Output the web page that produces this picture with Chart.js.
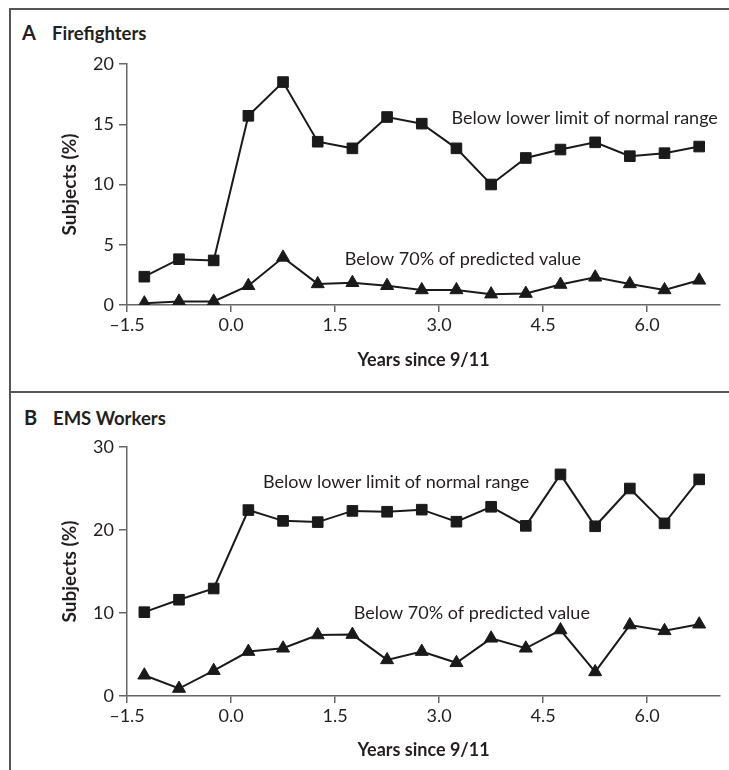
<!DOCTYPE html>
<html>
<head>
    <title>Spirometry after 9/11</title>
    <script src="https://cdn.jsdelivr.net/npm/chart.js"></script>
    <style>
        body { margin: 0; width: 729px; height: 770px; background: #fff; font-family: Lato, sans-serif; color: #231f20; overflow: hidden; }
        #frame { position: absolute; left: 9px; top: 8px; right: -5px; bottom: -5px; border-left: 2px solid #555; border-top: 2px solid #555; }
        #sep { position: absolute; left: 9px; right: 0; top: 391px; height: 2px; background: #555; }
        .panel-title { position: absolute; font-weight: bold; font-size: 18.5px; line-height: 22px; }
        .panel-title span { display: inline-block; font-size: 20px; }
        .wrap { position: absolute; left: 0; width: 729px; }
    </style>
</head>
<body>
    <div id="frame"></div>
    <div id="sep"></div>
    <div class="panel-title" style="left:22px; top:21px;"><span style="width:30px;">A</span>Firefighters</div>
    <div class="panel-title" style="left:24px; top:406px;"><span style="width:29px;">B</span>EMS Workers</div>
    <div class="wrap" style="top:40px; height:352px;"><canvas id="chartA"></canvas></div>
    <div class="wrap" style="top:395px; height:375px;"><canvas id="chartB"></canvas></div>

    <script>
        // Years since 9/11 (midpoints of half-year intervals)
        const years = [-1.25, -0.75, -0.25, 0.25, 0.75, 1.25, 1.75, 2.25, 2.75, 3.25, 3.75, 4.25, 4.75, 5.25, 5.75, 6.25, 6.75];
        const xTicks = [-1.5, 0.0, 1.5, 3.0, 4.5, 6.0];

        // Panel A: firefighters
        const fireLowerLimit = [2.35, 3.8, 3.7, 15.7, 18.5, 13.55, 13.0, 15.6, 15.05, 13.0, 10.0, 12.2, 12.9, 13.5, 12.35, 12.6, 13.15];
        const fireBelow70 = [0.15, 0.3, 0.3, 1.6, 3.95, 1.75, 1.85, 1.6, 1.25, 1.25, 0.9, 0.95, 1.7, 2.3, 1.75, 1.25, 2.05];
        const fireYTicks = [0, 5, 10, 15, 20];

        // Panel B: EMS workers
        const emsLowerLimit = [10.1, 11.6, 12.95, 22.4, 21.1, 20.95, 22.3, 22.2, 22.45, 21.0, 22.8, 20.5, 26.7, 20.45, 25.0, 20.8, 26.1];
        const emsBelow70 = [2.5, 0.9, 3.05, 5.35, 5.75, 7.35, 7.4, 4.35, 5.35, 4.0, 6.95, 5.75, 7.95, 2.9, 8.55, 7.85, 8.65];
        const emsYTicks = [0, 10, 20, 30];

        const ink = '#1a1a1a';
        const axisGrey = '#666';
        const fontFamily = 'Lato, sans-serif';

        // draws the text labels next to each line, anchored in data units
        const lineLabels = {
            id: 'lineLabels',
            afterDatasetsDraw(chart, args, opts) {
                const { ctx, scales } = chart;
                ctx.save();
                ctx.fillStyle = '#231f20';
                ctx.font = '18px ' + fontFamily;
                ctx.textAlign = 'left';
                ctx.textBaseline = 'middle';
                opts.items.forEach(item => {
                    ctx.fillText(item.text, scales.x.getPixelForValue(item.x), scales.y.getPixelForValue(item.y));
                });
                ctx.restore();
            }
        };

        function fmtTick(v) {
            return v < 0 ? '\u2013' + Math.abs(v).toFixed(1) : v.toFixed(1);
        }

        function makeChart(id, lower, below70, yTicks, yMax, xAxisHeight, titlePadBottom, topPad, labels) {
            const pts = arr => arr.map((v, i) => ({ x: years[i], y: v }));
            new Chart(document.getElementById(id), {
                type: 'scatter',
                data: {
                    datasets: [
                        {
                            data: pts(lower),
                            showLine: true,
                            borderColor: ink,
                            borderWidth: 2,
                            pointStyle: 'rect',
                            pointRadius: 7.5,
                            pointBackgroundColor: ink,
                            pointBorderColor: ink,
                            pointBorderWidth: 1
                        },
                        {
                            data: pts(below70),
                            showLine: true,
                            borderColor: ink,
                            borderWidth: 2,
                            pointStyle: 'triangle',
                            pointRadius: 7.5,
                            pointBackgroundColor: ink,
                            pointBorderColor: ink,
                            pointBorderWidth: 1
                        }
                    ]
                },
                options: {
                    responsive: true,
                    maintainAspectRatio: false,
                    animation: false,
                    events: [],
                    layout: { padding: { top: topPad, right: 9, left: 0, bottom: 0 } },
                    plugins: {
                        legend: { display: false },
                        tooltip: { enabled: false },
                        lineLabels: { items: labels }
                    },
                    scales: {
                        x: {
                            type: 'linear',
                            min: -1.5,
                            max: 7.05,
                            afterBuildTicks: s => { s.ticks = xTicks.map(v => ({ value: v })); },
                            afterFit: s => { s.height = xAxisHeight; },
                            ticks: {
                                callback: v => fmtTick(v),
                                color: '#231f20',
                                font: { family: fontFamily, size: 18 },
                                padding: 2,
                                maxRotation: 0
                            },
                            grid: { drawOnChartArea: false, drawTicks: true, tickLength: 7, color: axisGrey, lineWidth: 1.5 },
                            border: { color: axisGrey, width: 1.5 },
                            title: {
                                display: true,
                                text: 'Years since 9/11',
                                color: '#231f20',
                                font: { family: fontFamily, size: 18, weight: 'bold' },
                                padding: { top: 0, bottom: titlePadBottom }
                            }
                        },
                        y: {
                            min: 0,
                            max: yMax,
                            afterBuildTicks: s => { s.ticks = yTicks.map(v => ({ value: v })); },
                            afterFit: s => { s.width = 127; },
                            ticks: {
                                color: '#231f20',
                                font: { family: fontFamily, size: 18 },
                                padding: 5
                            },
                            grid: { drawOnChartArea: false, drawTicks: true, tickLength: 8, color: axisGrey, lineWidth: 1.5 },
                            border: { color: axisGrey, width: 1.5 },
                            title: {
                                display: true,
                                text: 'Subjects (%)',
                                color: '#231f20',
                                font: { family: fontFamily, size: 19, weight: 'bold' },
                                padding: { top: 58, bottom: 0 }
                            }
                        }
                    }
                },
                plugins: [lineLabels]
            });
        }

        makeChart('chartA', fireLowerLimit, fireBelow70, fireYTicks, 20, 87, 21, 24, [
            { text: 'Below lower limit of normal range', x: 3.18, y: 15.5 },
            { text: 'Below 70% of predicted value', x: 1.64, y: 3.8 }
        ]);
        makeChart('chartB', emsLowerLimit, emsBelow70, emsYTicks, 30, 74, 9, 52, [
            { text: 'Below lower limit of normal range', x: 0.46, y: 25.75 },
            { text: 'Below 70% of predicted value', x: 1.77, y: 10.0 }
        ]);
    </script>
</body>
</html>
